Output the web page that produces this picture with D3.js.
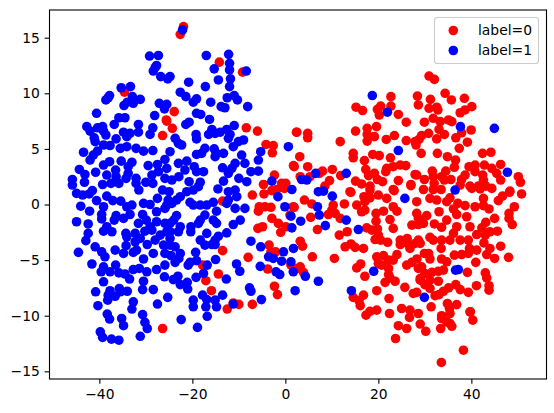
<!DOCTYPE html>
<html><head><meta charset="utf-8">
<script src="https://cdn.jsdelivr.net/npm/d3@7"></script>
<style>html,body{margin:0;padding:0;background:#fff}svg{display:block}text{font-family:"DejaVu Sans",sans-serif}</style>
</head><body><svg id="c" width="554" height="413"></svg>
<script>
const xTicks=[-40,-20,0,20,40];
const yTicks=[-15,-10,-5,0,5,10,15];
const legendLabels=["label=0","label=1"];
const seriesColors=["#ff0000","#0000ff"];
const label0=[[-34.6,10.1],[-25.6,7.6],[-26.4,6.2],[-26.4,-11.15],[-21.9,16],[-22.6,15.3],[-14.2,12.8],[-9.2,11.9],[-23.9,8.35],[-25.5,7.5],[-24.3,6.85],[-8.4,6.9],[-6,6.6],[2.45,6.5],
[-4.15,5.4],[-2.6,5.3],[-2.8,4.65],[1.75,3.5],[-2.35,2.65],[-4.7,1.8],[-0.8,1.9],[0.1,1.9],[-0.2,1.45],[-4.6,0.95],[-2.9,1.25],[-1.85,1.35],[-7.1,0.85],[-13.5,0.3],[-5.6,-0.2],[-4.4,-0.2],[-3.1,-0.25],[-5.8,-0.6],[1.7,-0.2],[-2.9,-1.25],[-1.5,-1.7],[1,-0.95],[0.1,-2],[-1,-2.5],[-5.9,-2.15],[-4.9,-2],[-3.5,-3.65],[-3.1,-4.25],[-13.5,-4.15],
[-8,-4.75],[-3.8,-5.8],[-2.1,-4.25],[1.2,-5.45],[-14.4,-6.25],[-17.8,-5.45],[-17.1,-6.85],[-15.9,-7.75],[-2.35,-7.35],[-1.7,-8.1],[-12.5,-9.4],[-11.2,-8.85],[-10,-8.98],[-7.1,-8.98],
[22.7,9.7],[28.4,9.75],[28.6,8.95],[15.2,8.75],[16.6,8.45],[20.5,8.85],[19.8,8.55],[22.7,8.85],[20.2,8.05],[24.3,8.1],[26,7.4],[19.6,7],[17.6,6.85],[15.1,6.6],[17.6,6.3],[19.15,6.1],[17.6,5.7],[2.4,6.5],[4.8,6.4],[4.8,6],[11.8,5.65],[23.45,6.2],[21.7,5.85],[26,5.75],[27.9,5.65],[28.1,5.35],[14.6,4.6],[14.6,4.2],[18.8,4.5],[20.2,4.4],[22.6,4.2],[3.1,4.3],[17,3.95],[1.9,3.4],[4.8,3.4],[8,3],[10.1,3.15],[17.3,3.15],[21.8,3.25],[21.6,2.95],[23.2,3.4],[24.7,3.55],[25.9,3.5],[19.15,2.8],[27.9,2.7],[17.9,2.6],[11.9,2.6],[9.5,2.15],[19.8,2.25],[15.1,2.1],[16.4,1.85],[20.9,2.05],[24.3,2.15],[18.2,1.65],[23.2,1.35],[27,1.8],[13.9,1.15],[3.2,2.5],[5.3,2.5],[8.5,1.65],[7.3,2.8],
[4.1,0.4],[5.7,0.05],[1.9,-0.25],[10.3,-0.05],[10,-0.5],[9.25,-0.9],[10.7,-0.8],[5.45,-1.15],[11.8,-1.25],[6.9,-2.25],[11.6,-2.75],[13.3,-2.45],[14.1,1.1],[12.7,0.05],[15.35,-0.05],[17.1,0.25],[16.9,0.7],[18.2,0.6],[20,0.85],[21.8,0.55],[23.4,1.25],[27,1.7],[16.4,-0.65],[17.1,-0.5],[21.1,-0.6],[19.5,-0.8],[23.2,-0.2],[24,-0.6],[22.5,-1.35],[19.5,-1.5],[23.2,-2.15],[27.2,-1.85],[28.6,-1.8],[17.5,-2.1],[18.6,-2.3],[19.8,-2.2],[20,-2.75],[19.3,-3.15],[20.5,-3.2],[22,-3.4],[24.7,-3.2],[24.7,-3.6],[26.2,-3.05],[26.2,-3.5],[27.9,-3.5],[28.6,-3.2],[26.8,-3.95],[12.85,-3.8],[14.1,-3.55],[15,-3.85],[16.8,-3.95],[3.2,-3.3],[3.7,-3.75],[5.8,-4.7],[10.55,-4.85],[16.2,-5.35],[15.35,-5.7],[19.65,-4.7],[21.1,-4.6],[24,-4.5],[23.2,-5],[20,-5.3],[22.2,-5],[20.7,-5.45],[26.1,-5.45],[27.2,-5.2],[28.3,-4.9],[22.2,-5.75],[28.6,-5.75],[22.2,-6.3],[22.5,-6.6],[21.45,-7],[23.6,-6.9],[29,-6.65],[17.1,-6.45],[3.2,-5.6],[2.6,-5.75],[3.9,-6.1],[25.7,-7.45],[19.65,-7.75],[28.25,-7.9],[16.8,-8.15],[14.6,-8.35],[15.85,-8.65],[22.3,-8.45],[16.1,-9.1],[19.65,-9.5],[18.2,-9.6],[17.35,-9.95],[22.4,-9.8],[25,-9.35],[26.8,-9.5],[28.6,-9.8],[18.2,1.3],
[30.9,11.55],[32.05,11.25],[34.35,10],[35.7,9.4],[38.5,9.55],[31.2,9.45],[30.9,8.65],[32.55,8.75],[32.8,8.5],[40.1,8.8],[38.65,8.5],[37.6,8.25],[29.9,7.4],[31.8,7.75],[33.3,7.45],[35.1,7.6],[35.8,7.45],[33.05,6.75],[30.8,6.4],[29.3,6.2],[28.75,5.85],[34.2,6.3],[32.55,5.9],[36.65,6],[37.9,6.45],[39.95,6.7],[39.15,5.6],[37.4,5.05],[29.2,4.6],[32.7,4.6],[34.85,4.3],[36.6,4],[36.35,3.35],[42.4,4.6],[44.2,4.7],[28.25,2.65],[31.6,3],[29.9,2.25],[31.8,2.5],[34.5,3],[33.6,2.5],[32,1.9],[35.6,2.25],[34.2,2.2],[39.5,3.4],[40.8,3.55],[42.8,3.55],[44.4,3.25],[46.3,3.6],[40.8,2.95],[45.45,2.8],[42.45,2.65],[38.65,2.65],[37.9,2.25],[42.6,2.2],[46.3,2.2],[50.1,2.5],[50.55,2],[37.6,1.75],[39.7,1.65],[41.5,1.65],[43.1,1.65],[29.7,1.35],[31.8,1.35],[33.5,1.35],[48.3,1.2],
[40.1,1.45],[44.4,1.45],[41.9,1.4],[50.8,0.95],[48.2,1.1],[46.7,0.75],[45.8,0.35],[42.6,0.55],[31.1,0.55],[28.25,0.25],[32.55,0.4],[35.4,0.6],[34.7,0.25],[37.1,0.1],[38.65,-0.1],[40.8,-0.2],[42.6,-0.1],[43.8,-0.4],[49.25,-0.2],[36.15,-0.4],[33.05,-0.65],[28.25,-0.8],[28.6,-1.25],[48.1,-0.8],[48.1,-1.25],[48.8,-1.8],[30.4,-1],[36.85,-0.9],[39,-1.1],[45,-1.25],[43.1,-1.6],[29.7,-1.7],[32.05,-1.75],[34.7,-1.4],[33.6,-2.05],[36.85,-2],[39.7,-2],[42.25,-2.1],[45.6,-2.4],[44,-2.45],[36.15,-2.6],[41.15,-2.7],[43,-2.75],[31.1,-2.95],[33.6,-3.2],[35.4,-3.2],[37.6,-3.2],[39.35,-3.2],[31.8,-3.2],[29,-3.5],[42.7,-3.45],[33.5,-3.95],[46.3,-3.75],[39.6,-3.95],[41.15,-4.1],[44,-3.95],[30.8,-4.4],[29.9,-4.4],[36.35,-4.55],[37.9,-4.5],[39.35,-4.4],[43.3,-4.5],[48,-4.75],[45,-4.85],[31.1,-4.9],[33.6,-4.9],[34.7,-5.15],[40.95,-5.2],[29.3,-5.6],[31.5,-6.1],[32.9,-6],[34,-5.9],[30,-6.2],[39.15,-6.1],[43,-6.15],[43.3,-6.6],[31.1,-6.8],[32.9,-6.9],[29,-6.8],[30,-7.2],[31.1,-7.55],[36.65,-7.2],[37.6,-7.65],[35.1,-7.5],[34,-7.8],[33.05,-8.1],[32.2,-8.2],[41.1,-7.3],[39.35,-7.9],[43.8,-7.3],[43.8,-7.7],[31.35,-9.2],[34.85,-8.9],[36.85,-9],[35.3,-9.35],[39.7,-9.65],[35.4,-9.8],[33.6,-10],
[26.7,-10.15],[24.3,-10.9],[26.1,-11.15],[29,-10.75],[30.2,-11.4],[23.7,-12.05],[38.3,-13.1],[33.55,-14.2],[33.4,-11.15],[33.6,-10.25],[34.7,-10.55],[35.8,-10.95],[35.4,-10.7],[39.8,-9.65],[40.3,-10.4],[27.5,-8]];
const label1=[[-29.2,13.35],[-27.3,13.4],[-27.7,12.5],[-28,12.3],[-28.4,12],[-26.8,11.5],[-25.3,11.3],[-37.8,9.8],[-38.1,9.6],[-38.6,9.4],[-35.3,10.5],[-33.3,10.6],[-34.7,8.9],[-34,9.2],[-32.9,9.7],[-32.7,9.1],[-31.2,9.45],[-27.1,9.1],[-25.5,9],[-26,8.6],[-40.6,8.2],[-28.1,8],[-35.8,7.8],[-34.5,7.8],[-36.8,7.2],[-31.6,7.2],[-28.5,6.9],[-42.7,7],[-42,6.6],[-40.4,6.9],[-39.3,7],[-39.1,6.6],[-34.8,6.5],[-33.4,6.4],[-31.6,6.5],[-29.1,6.3],
[-41.1,6],[-40.9,5.65],[-38.6,6.25],[-34.1,6.1],[-36.4,5.9],[-39.1,5.35],[-37.7,5.3],[-35.5,5.05],[-34.1,5.2],[-40.4,4.8],[-41.3,4.45],[-42,4],[-43.4,4.7],[-32.1,5.05],[-30.5,4.8],[-28.5,4.85],[-35.3,3.9],[-33,3.8],[-37.8,3.85],[-39.1,3.55],[-44.3,3.15],[-43.1,2.7],[-40.8,2.9],[-38.4,2.65],[-36.5,3.1],[-33.8,3.4],[-33.8,2.8],[-29.5,3.5],[-27.5,3.6],[-25.9,4.05],[-25.5,3.25],[-45.8,2.25],[-45.8,1.75],[-43.2,2],[-39.3,1.8],[-37.5,1.9],[-35.8,1.9],[-34.25,2.35],[-36.4,2.5],[-32.1,2.35],[-32.1,1.9],[-31.5,1.3],[-30,2],[-28.5,1.9],[-28.7,2.65],[-27.3,2.95],[-25.9,2.35],[-26.4,1.3],[-41.5,1.25],[-44.9,1],[-43.6,0.85],[-42.2,0.95],[-38.4,0.75],[-37.1,0.35],[-35.4,0.3],[-33,-0.05],[-34.1,-0.2],[-30.5,0.1],[-29.1,0],[-27.5,0.55],[-25.2,0.4],[-40.6,0.35],[-39.1,-0.2],[-44,-0.15],[-42.1,-0.6],[-39.5,-0.9],[-39.5,-1.3],[-36.4,-1],[-36.8,-1.4],[-34.8,-1.25],[-33.4,-0.9],[-30.7,-0.9],[-29.9,-1.4],[-27.7,-0.65],[-25.9,-0.35],[-44.9,-1.55],[-42.4,-1.75],[-31.6,-1.7],[-29.1,-2],[-27.7,-1.55],[-25.9,-1.7],[-38.4,-2],[-39.1,-2.4],[-37.3,-2.45],[-42.4,-2.6],[-42.9,-3.25],[-34.3,-2.6],[-34.1,-2.9],[-32.3,-2.6],[-30.2,-2.4],[-28.7,-2.3],[-26.9,-2.75],[-25.5,-2.45],[-32.3,-3.35],[-29.7,-3.6],[-31.2,-3.05],[-28,-3.2],[-26.2,-3.65],[-24.8,-3.05],[-40.9,-3.8],[-44.5,-4.3],[-36.6,-4.1],[-34.25,-3.7],[-32,-4.1],[-34.8,-4.4],[-28.4,-4.4],[-25.9,-4.4],
[-39.5,-4.25],[-38.8,-4.7],[-32.7,-4.3],[-30.5,-4.9],[-25.9,-5.45],[-41.6,-5.35],[-39.1,-5.6],[-39.6,-6.05],[-37.7,-6.05],[-36.5,-5.45],[-35.8,-6.15],[-34.5,-6.25],[-33.5,-6.7],[-32.7,-5.85],[-31.4,-5.75],[-29.8,-6.05],[-27.7,-5.85],[-26,-6.5],[-39.1,-6.95],[-30.5,-6.9],[-30.7,-7.65],[-28.4,-7.65],[-40.8,-7.85],[-37.7,-7.75],[-38.1,-8.15],[-35.7,-7.55],[-35.5,-7.85],[-34,-7.8],[-36.6,-8.25],[-38.2,-8.6],[-40.3,-9.1],[-32.7,-8.75],[-33,-9.4],[-27.5,-8.95],[-25.3,-8.35],[-38.3,-9.85],[-37.8,-10.3],[-35.2,-10.25],[-34.8,-10.9],[-30.7,-9.9],[-30.2,-10.6],[-29.7,-11.15],[-39.8,-11.45],[-39.3,-11.95],[-37.4,-12.1],[-35.8,-12.2],[-31.2,-11.85],
[-22.1,15.7],[-17,13.4],[-12.2,13.5],[-12,12.7],[-15.3,12.2],[-12,12.1],[-8.4,12],[-24.8,11.5],[-20.8,11],[-14.4,11.2],[-11.8,11.3],[-17.2,10.6],[-12,10.6],[-22.6,10.1],[-21.4,9.7],[-12.5,9.6],[-11,9.8],[-10.3,9.4],[-19.1,9.5],[-19.8,9.2],[-16.05,9.2],[-13.8,8.8],[-13,8.7],[-8.1,8.8],[-19.1,8.2],[-18.2,8.1],[-16.3,7.65],[-20.7,7.4],[-21.4,7.2],[-11,7.1],[-15.8,6.75],[-14,6.5],[-12.6,6.75],[-19.2,6.3],[-16.5,6.3],[-11.9,6.3],[-15.1,6.4],
[-23.7,5.95],[-23,5.5],[-22.3,5.35],[-19.1,5.9],[-12.25,5.95],[-11.2,5.2],[-10.1,5.65],[-9,5.8],[-5.3,4.75],[0.65,5.2],[-17.3,5.05],[-18,4.6],[-19.1,4.5],[-15.3,5],[-14.8,4.6],[-13.3,4.6],[-15.1,4.3],[-9.4,4.45],[-8.7,3.7],[-5.8,4],[-10.8,3.7],[-11.5,3.25],[-12.25,2.8],[-7.4,2.95],[-5.8,3],[-24.8,4.75],[-23,3.7],[-21.2,3.9],[-21.6,3.1],[-19.6,3.4],[-19.1,2.95],[-17.6,2.95],[-13.5,3.3],[-13.3,2.1],[-24.4,2.2],[-22.9,2.5],[-20.7,2.05],[-18.3,2],[-18.7,1.6],[-19.8,1.3],[-21.2,1.15],[-14.5,1.4],[-10,2.35],[-8.3,2.05],[-25,1.15],[-22.6,0.7],[-23.4,0.4],[-24.4,0.1],[-25.5,-0.05],[-12.25,1.15],[-10.8,1.3],[-10.45,0.7],[-12.25,0.4],[-12.6,0.1],[-10.8,-0.35],[-8.7,-0.35],[-20.5,0.2],[-19.8,-0.05],[-18.3,-0.05],[-16.9,-0.05],[-15.5,0.2],[-14.8,-0.6],[-2.9,2.1],[-1.6,0.7],[1.4,1.35],[-0.1,-0.2],[1.2,-1.05],[1.4,-2.1],[-23.4,-1],[-24,-1.4],[-24.8,-1.7],[-18.3,-1.4],[-17.3,-0.95],[-18.7,-1.7],[-15.5,-1.4],[-14.8,-1.7],[-11.2,-1.8],[-9.7,-1.4],[-20.3,-2],[-20.35,-2.45],[-22.6,-2],[-23,-2.45],[-24.8,-2.45],[-16.9,-2.6],[-12.6,-2.55],[-14.4,-2.85],[-15.1,-3.2],[-18.3,-3.2],[-17.3,-3.65],[-15.1,-3.6],[-15.8,-3.6],[-7.4,-3.3],[-24.8,-3.65],[-23.7,-3.8],[-22.6,-4.4],[-5.3,-3.8],[-0.4,-4.25],[1.75,-3.95],
[-24.6,-4.6],[-22.9,-4.85],[-23.7,-5.2],[-19.3,-4.3],[-19.1,-5.05],[-20.5,-5.2],[-20.9,-5.45],[-16.8,-5.45],[-15,-4.95],[-10.5,-5.35],[-9.8,-6],[-5.4,-5.56],[-3.6,-4.7],[-2.6,-4.85],[-0.8,-5.1],[1.2,-5.15],[-2,-6.05],[-1.2,-6.3],[1.7,-6.05],[-17.6,-6.2],[-19.2,-6.55],[-23.1,-6.45],[-24.1,-6.75],[-22.6,-7.2],[-21.1,-7],[-21,-7.6],[-12.7,-6.7],[-7.7,-7.5],[-7.4,-7.8],[2.1,-7.75],[-17.8,-8.15],[-19.8,-8.6],[-19.8,-9.2],[-16.9,-8.55],[-15.1,-8.6],[-13.5,-8.15],[-17.1,-9.2],[-14.8,-9.2],[-11.2,-8.95],[-5.15,-8.55],[-16.8,-10.05],[-22.4,-10.35],[-18.9,-11.05],
[18.7,9.8],[21.95,8.3],[24.3,4.85],[6.5,2.8],[13.1,2.8],[3.5,2.25],[4.6,2.2],[7.1,1.15],[8.2,1.2],[10.1,0.75],[25.7,0.55],[6.9,-0.2],[7.3,-0.95],[3.3,-1.5],[13.1,-1.4],[8.6,-1.9],[15.7,-2.25],[4.3,-6.45],[7.1,-6.9],[19,-6],[14.2,-7.75],
[37.65,7],[44.95,6.85],[47.75,2.9],[36.5,1.3],[36.6,-5.9],[37.2,-5.85],[29.9,-8.35]];

const svg=d3.select("#c");
const L=49.5,R=546.5,T=10,B=379;
const x=d3.scaleLinear().domain([-50.72,56.16]).range([L,R]);
const y=d3.scaleLinear().domain([-15.69,17.49]).range([B,T]);
const r=4.8;
const fontPx=13.89;

[label0,label1].forEach((pts,i)=>{
  svg.append("g").selectAll("circle").data(pts).join("circle")
    .attr("cx",d=>x(d[0])).attr("cy",d=>y(d[1])).attr("r",r).attr("fill",seriesColors[i]);
});

const ax=svg.append("g").attr("transform",`translate(0,${B})`).call(d3.axisBottom(x).tickValues(xTicks).tickSize(4.86).tickPadding(4.86));
const ay=svg.append("g").attr("transform",`translate(${L},0)`).call(d3.axisLeft(y).tickValues(yTicks).tickSize(4.86).tickPadding(4.86));
[ax,ay].forEach(g=>{
  g.select(".domain").remove();
  g.selectAll("line").attr("stroke","#000").attr("stroke-width",1.1);
  g.selectAll("text").attr("fill","#000").attr("font-size",fontPx).attr("font-family","'DejaVu Sans'");
});
svg.append("rect").attr("x",L).attr("y",T).attr("width",R-L).attr("height",B-T)
  .attr("fill","none").attr("stroke","#000").attr("stroke-width",1.1);

const lg=svg.append("g");
lg.append("rect").attr("x",434.5).attr("y",17.5).attr("width",104).attr("height",46).attr("rx",2.8)
  .attr("fill","#fff").attr("fill-opacity",0.8).attr("stroke","#ccc").attr("stroke-width",1.1);
legendLabels.forEach((t,i)=>{
  const yy=30.5+i*20;
  lg.append("circle").attr("cx",453.3).attr("cy",yy).attr("r",r).attr("fill",seriesColors[i]);
  lg.append("text").attr("x",478).attr("y",yy+4.8).attr("font-size",fontPx).attr("fill","#000").text(t);
});
</script></body></html>
